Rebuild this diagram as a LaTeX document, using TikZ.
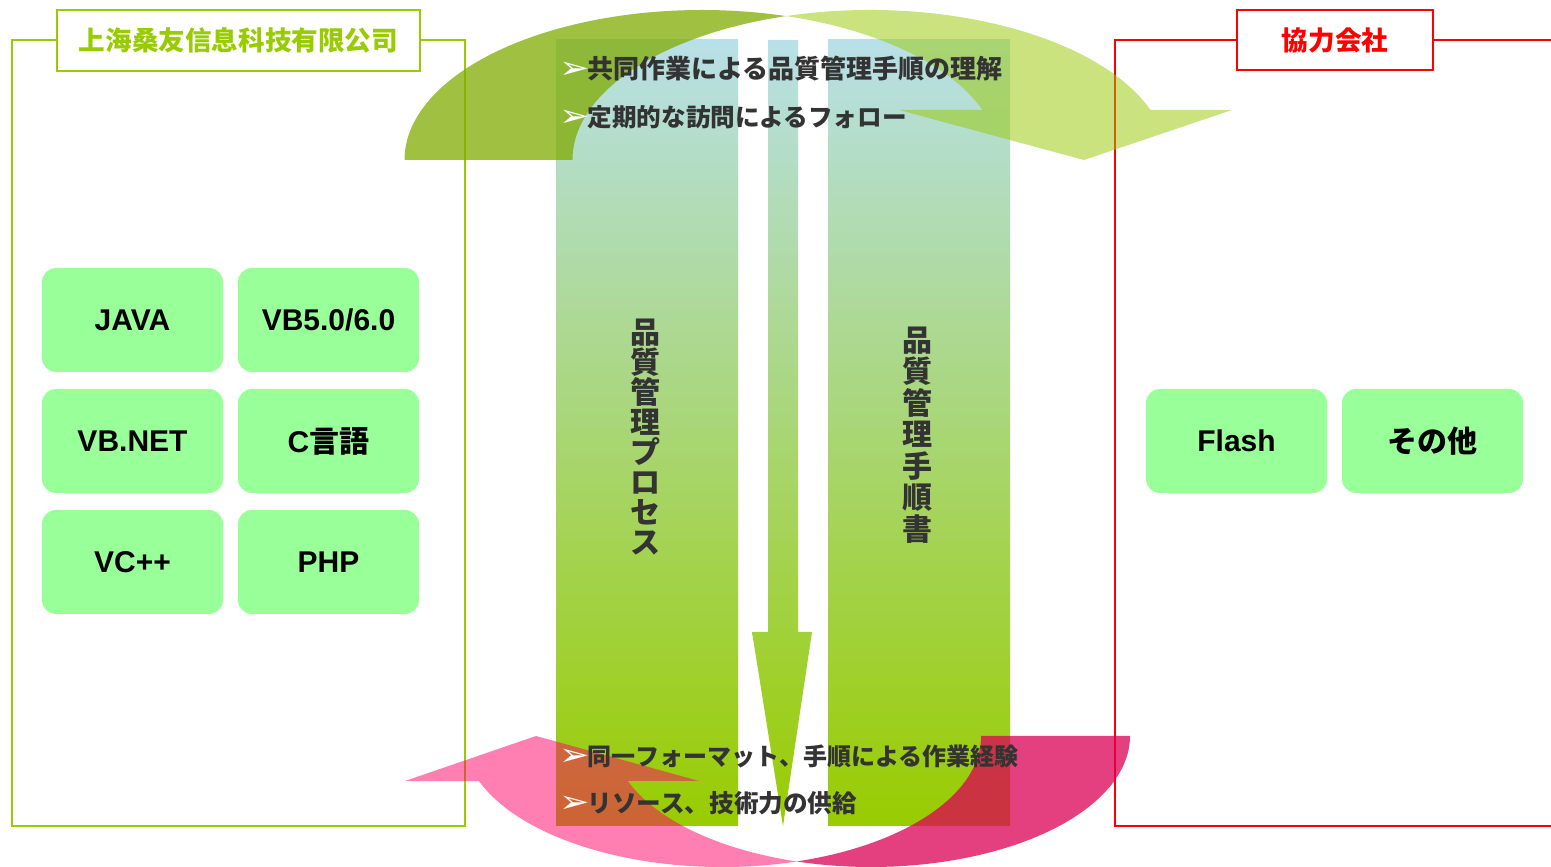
\documentclass[tikz,border=0pt]{standalone}
\usepackage{fontspec}
\setmainfont{Liberation Sans}
\newfontfamily\jpfont{Noto Sans CJK JP}
\newfontfamily\scfont{Noto Sans CJK SC}
\newfontfamily\symfont{DejaVu Sans}
\definecolor{frameGreen}{HTML}{99CC00}
\definecolor{frameRed}{HTML}{FF0000}
\definecolor{btn}{HTML}{99FF99}
\definecolor{colTop}{HTML}{B8E0E8}
\definecolor{colBot}{HTML}{99CC00}
\definecolor{darkGreen}{HTML}{80AB00}
\definecolor{lightGreen}{HTML}{99C900}
\definecolor{lightPink}{HTML}{FF0066}
\definecolor{darkPink}{HTML}{DC0056}
\definecolor{txt}{HTML}{333333}
\newcommand{\bul}{\scalebox{1.3}[1.1]{\symfont\fontsize{28}{28}\selectfont\color{white}➢}}
\begin{document}
\begin{tikzpicture}[x=1pt,y=1pt,
  btnbox/.style={fill=btn, draw=none, rounded corners=14pt, minimum width=181pt, minimum height=104pt, inner sep=0pt, font=\bfseries\fontsize{30}{36}\selectfont, text=black},
  titlebox/.style={fill=white, line width=2pt, inner sep=0pt},
  bullettext/.style={anchor=west, inner sep=0pt, text=txt},
  verttext/.style={inner sep=0pt, align=center, text=txt},
  colshade/.style={top color=colTop, bottom color=colBot}
]
\useasboundingbox (0,0) rectangle (1551,867);
\fill[white] (0,0) rectangle (1551,867);

% frames
\draw[frameGreen, line width=2pt] (12,41) rectangle (465,827);
\draw[frameRed, line width=2pt] (1560,827) -- (1115,827) -- (1115,41) -- (1560,41);

% columns
\shade[colshade] (556,41) rectangle (738,827);
\shade[colshade] (828,41) rectangle (1010,827);
\shade[colshade] (768,827) -- (798,827) -- (798,235) -- (812,235) -- (783,41) -- (752,235) -- (768,235) -- cycle;

% top curved arrow
\fill[darkGreen, fill opacity=0.75] (404.5,707)
  arc[start angle=180, end angle=73.6, x radius=297.5, y radius=150]
  arc[start angle=106.4, end angle=180, x radius=297.5, y radius=150] -- cycle;
\fill[lightGreen, fill opacity=0.5] (786,850.9)
  arc[start angle=106.4, end angle=19.47, x radius=297.5, y radius=150]
  -- (1232,757) -- (1084,707) -- (899,757) -- (982.5,757)
  arc[start angle=19.47, end angle=73.6, x radius=297.5, y radius=150] -- cycle;

% bottom curved arrow
\fill[darkPink, fill opacity=0.75] (1130,131)
  arc[start angle=0, end angle=-106.7, x radius=259, y radius=131]
  arc[start angle=-73.3, end angle=0, x radius=259, y radius=131] -- cycle;
\fill[lightPink, fill opacity=0.5] (796.6,5.5)
  arc[start angle=-73.3, end angle=-159.9, x radius=259, y radius=131]
  -- (405,86) -- (536,131) -- (699,86) -- (627.8,86)
  arc[start angle=-159.9, end angle=-106.7, x radius=259, y radius=131] -- cycle;

% title boxes
\node[titlebox, draw=frameGreen, minimum width=363pt, minimum height=61pt, text=frameGreen, font=\scfont\bfseries\fontsize{26.6}{30}\selectfont] (lefttitle) at (238.5,826.5) {上海桑友信息科技有限公司};
\node[titlebox, draw=frameRed, minimum width=196pt, minimum height=60pt, text=frameRed, font=\jpfont\bfseries\fontsize{26.6}{30}\selectfont] (righttitle) at (1335,827) {協力会社};

% buttons
\node[btnbox] (java) at (132.5,547) {JAVA};
\node[btnbox] (vb) at (328.5,547) {VB5.0/6.0};
\node[btnbox] (vbnet) at (132.5,426) {VB.NET};
\node[btnbox] (clang) at (328.5,426) {C{\jpfont 言語}};
\node[btnbox] (vc) at (132.5,305) {VC++};
\node[btnbox] (php) at (328.5,305) {PHP};
\node[btnbox] (flash) at (1236.5,426) {Flash};
\node[btnbox] (other) at (1432.5,426) {{\jpfont その他}};

% bullet texts
\node[bullettext, font=\jpfont\bfseries\fontsize{26}{30}\selectfont] (top1) at (559,798) {\bul\hspace{-2pt}共同作業による品質管理手順の理解};
\node[bullettext, font=\jpfont\bfseries\fontsize{24.6}{30}\selectfont] (top2) at (559,750) {\bul\hspace{-2pt}定期的な訪問によるフォロー};
\node[bullettext, font=\jpfont\bfseries\fontsize{24}{30}\selectfont] (bot1) at (559,111) {\bul\hspace{-2pt}同一フォーマット、手順による作業経験};
\node[bullettext, font=\jpfont\bfseries\fontsize{24.6}{30}\selectfont] (bot2) at (559,64) {\bul\hspace{-2pt}リソース、技術力の供給};

% vertical texts
\node[verttext, font=\jpfont\bfseries\fontsize{30}{30}\selectfont] (proc) at (645,429.5) {品\\質\\管\\理\\プ\\ロ\\セ\\ス};
\node[verttext, font=\jpfont\bfseries\fontsize{30}{31.5}\selectfont] (doc) at (917,432) {品\\質\\管\\理\\手\\順\\書};
\end{tikzpicture}
\end{document}
